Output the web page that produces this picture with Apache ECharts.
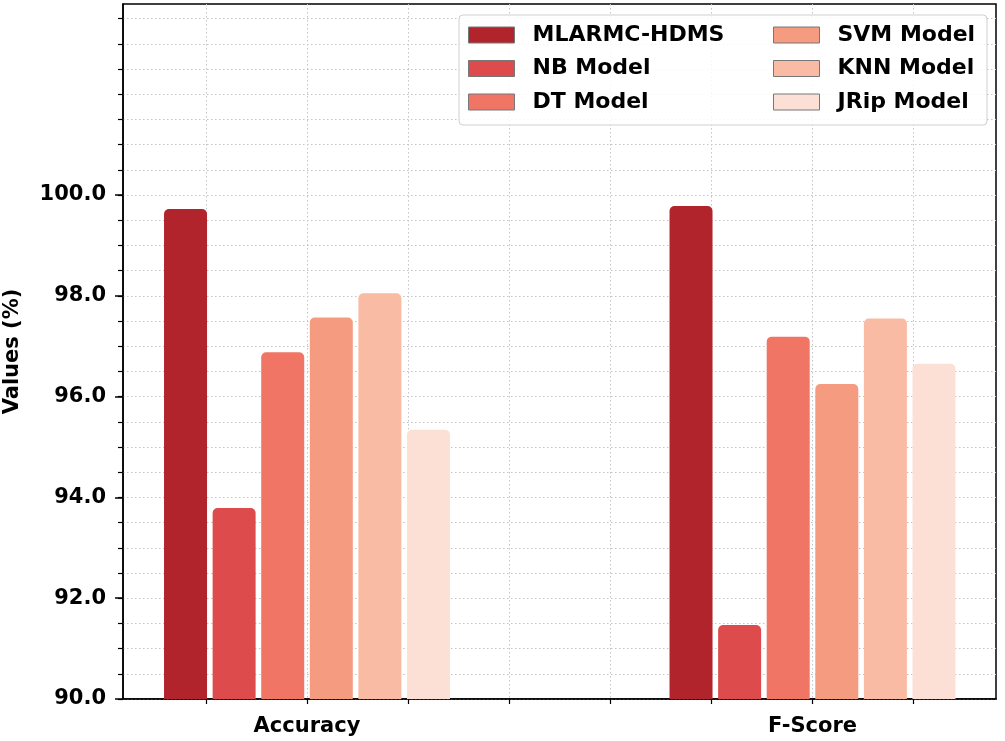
<!DOCTYPE html>
<html><head><meta charset="utf-8">
<script src="https://cdn.jsdelivr.net/npm/echarts@6/dist/echarts.min.js"></script>
<style>html,body{margin:0;padding:0;background:#fff}#c{width:1005px;height:741px}</style>
</head><body><div id="c"></div>
<script>
// ---- data ----
const categories = ['Accuracy', 'F-Score'];
const seriesNames = ['MLARMC-HDMS', 'NB Model', 'DT Model', 'SVM Model', 'KNN Model', 'JRip Model'];
const mlarmcHdms = [99.72, 99.78];
const nbModel = [93.79, 91.47];
const dtModel = [96.88, 97.19];
const svmModel = [97.57, 96.25];
const knnModel = [98.05, 97.55];
const jripModel = [95.34, 96.65];
const yTickLabels = [90, 92, 94, 96, 98, 100];

// ---- layout / style ----
const values = [mlarmcHdms, nbModel, dtModel, svmModel, knnModel, jripModel];
const colors = ['#b2242c', '#dd4b4d', '#f07565', '#f49b80', '#f9bba3', '#fde0d5'];
const GROUP_STEP = 5;
const X_MIN = -1.82, X_MAX = 6.815;
const Y_MIN = 90, Y_MAX = 103.79;
const xTicks = [];
for (let v = -1; v <= 6; v++) xTicks.push(v);
const yMinorTicks = [];
for (let v = 90; v <= 103.5; v += 0.5) yMinorTicks.push(v);
const xLabelPos = categories.map((c, i) => i * GROUP_STEP);
const FONT = 'DejaVu Sans';

const chart = echarts.init(document.getElementById('c'), null, {renderer: 'canvas'});

const series = seriesNames.map((name, i) => ({
  type: 'bar',
  name: name,
  xAxisIndex: 0,
  yAxisIndex: 0,
  data: values[i].map((v, j) => [j * GROUP_STEP, v]),
  barWidth: 43,
  barGap: '13%',
  itemStyle: {color: colors[i], borderRadius: [5, 5, 0, 0]},
  z: 3
}));

const legendCommon = {
  orient: 'vertical',
  top: 24,
  padding: 0,
  itemWidth: 46,
  itemHeight: 16,
  itemGap: 11.5,
  icon: 'rect',
  itemStyle: {borderColor: '#777', borderWidth: 1},
  textStyle: {fontFamily: FONT, fontSize: 22, fontWeight: 'bold', color: '#000', padding: [0, 0, 0, 13]},
  selectedMode: false,
  z: 6
};

chart.setOption({
  animation: false,
  backgroundColor: '#fff',
  grid: {left: 123, right: 9, top: 4, bottom: 42, show: true, borderColor: '#000', borderWidth: 1.5,
    containLabel: false, outerBoundsMode: 'none'},
  graphic: [{
    type: 'rect', shape: {x: 459, y: 15, width: 528, height: 110, r: 4},
    style: {fill: 'rgba(255,255,255,0.85)', stroke: '#cfcfcf', lineWidth: 1}, z: 5
  }],
  legend: [
    Object.assign({}, legendCommon, {left: 468, data: seriesNames.slice(0, 3)}),
    Object.assign({}, legendCommon, {left: 773, data: seriesNames.slice(3)})
  ],
  xAxis: [{
    type: 'value', min: X_MIN, max: X_MAX,
    axisLine: {show: true, onZero: false, lineStyle: {color: '#000', width: 1.5}},
    axisTick: {show: true, length: 5, customValues: xTicks, lineStyle: {color: '#000', width: 1.2}},
    axisLabel: {customValues: xLabelPos, margin: 17, formatter: v => categories[Math.round(v / GROUP_STEP)] || '',
      fontFamily: FONT, fontSize: 21, fontWeight: 'bold', color: '#000'},
    splitLine: {show: true, lineStyle: {color: '#c4c4c4', width: 1, type: [1.5, 2.5]}}
  }],
  yAxis: [{
    type: 'value', min: Y_MIN, max: Y_MAX,
    name: 'Values (%)', nameLocation: 'middle', nameGap: 100,
    nameTextStyle: {fontFamily: FONT, fontSize: 21, fontWeight: 'bold', color: '#000'},
    axisLine: {show: true, onZero: false, lineStyle: {color: '#000', width: 1.5}},
    axisTick: {show: true, length: 5, customValues: yMinorTicks, lineStyle: {color: '#000', width: 1.2}},
    axisLabel: {customValues: yTickLabels, margin: 17, formatter: v => v.toFixed(1),
      fontFamily: FONT, fontSize: 21, fontWeight: 'bold', color: '#000'},
    splitLine: {show: true, lineStyle: {color: '#c4c4c4', width: 1, type: [1.5, 2.5]}}
  }, {
    type: 'value', min: Y_MIN, max: Y_MAX, position: 'left',
    axisLine: {show: false, onZero: false},
    axisTick: {show: true, length: 8, customValues: yTickLabels, lineStyle: {color: '#000', width: 1.5}},
    axisLabel: {show: false},
    splitLine: {show: false}
  }],
  series: series
});
</script>
</body></html>
